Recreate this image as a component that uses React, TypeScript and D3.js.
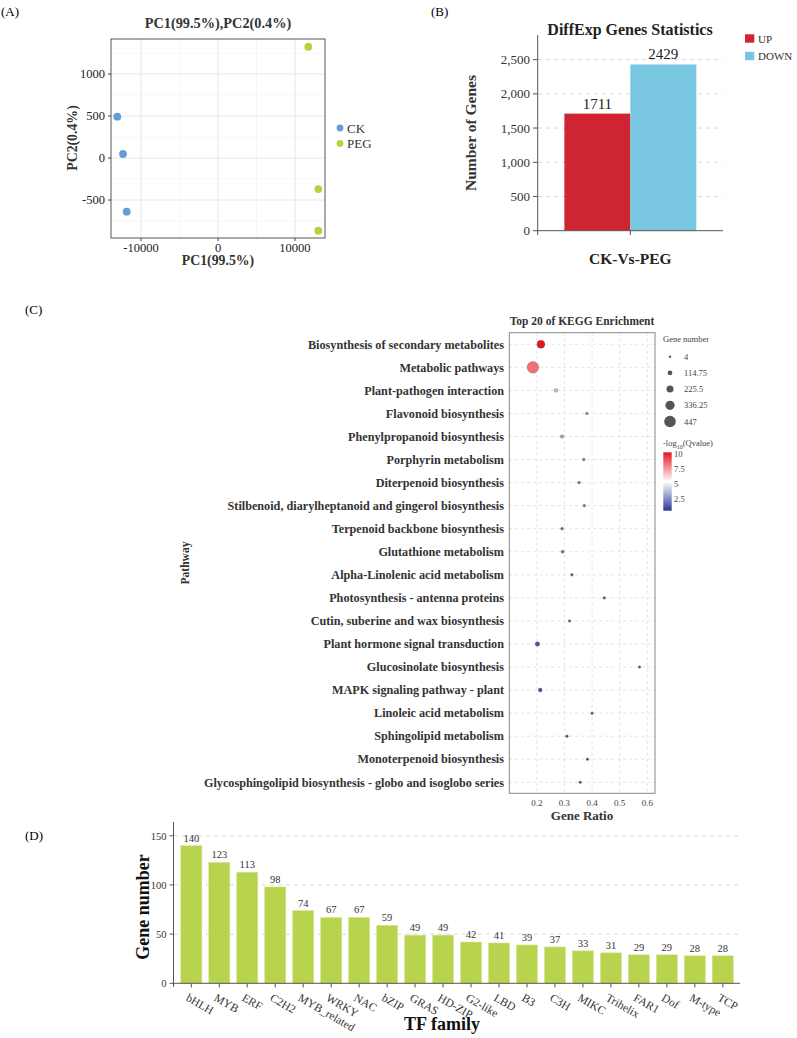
import React from "react";
import * as d3 from "d3";

// ---------- Panel A data (PCA) ----------
const pcaGroups = ["CK", "PEG"];
const pcaCK_x = [-13080, -12340, -11860];
const pcaCK_y = [492, 48, -639];
const pcaPEG_x = [11730, 13030, 13030];
const pcaPEG_y = [1325, -369, -865];
const pcaXTicks = [-10000, 0, 10000];
const pcaYTicks = [-500, 0, 500, 1000];

// ---------- Panel B data ----------
const degGroups = ["CK-Vs-PEG"];
const degCats = ["UP", "DOWN"];
const degValues = [1711, 2429];
const degYTicks = [0, 500, 1000, 1500, 2000, 2500];

// ---------- Panel C data (KEGG) ----------
const keggPathways = [
  "Biosynthesis of secondary metabolites",
  "Metabolic pathways",
  "Plant-pathogen interaction",
  "Flavonoid biosynthesis",
  "Phenylpropanoid biosynthesis",
  "Porphyrin metabolism",
  "Diterpenoid biosynthesis",
  "Stilbenoid, diarylheptanoid and gingerol biosynthesis",
  "Terpenoid backbone biosynthesis",
  "Glutathione metabolism",
  "Alpha-Linolenic acid metabolism",
  "Photosynthesis - antenna proteins",
  "Cutin, suberine and wax biosynthesis",
  "Plant hormone signal transduction",
  "Glucosinolate biosynthesis",
  "MAPK signaling pathway - plant",
  "Linoleic acid metabolism",
  "Sphingolipid metabolism",
  "Monoterpenoid biosynthesis",
  "Glycosphingolipid biosynthesis - globo and isoglobo series",
];
const keggRatio = [0.2145, 0.1855, 0.269, 0.381, 0.291, 0.37, 0.353, 0.372, 0.291, 0.293, 0.327, 0.444, 0.318, 0.202, 0.572, 0.212, 0.4, 0.309, 0.383, 0.357];
const keggGenes = [270, 447, 62, 14, 58, 15, 12, 14, 20, 30, 18, 10, 12, 105, 6, 80, 10, 14, 8, 6];
const keggQ = [10.3, 8.4, 4.0, 2.4, 3.2, 2.0, 1.8, 2.0, 1.7, 1.6, 1.5, 1.4, 1.4, 1.3, 1.2, 1.2, 1.1, 1.0, 1.0, 0.9];
const keggXTicks = [0.2, 0.3, 0.4, 0.5, 0.6];
const sizeLegend = [4, 114.75, 225.5, 336.25, 447];
const colorLegend = [10, 7.5, 5, 2.5];

// ---------- Panel D data (TF families) ----------
const tfFamilies = ["bHLH", "MYB", "ERF", "C2H2", "MYB_related", "WRKY", "NAC", "bZIP", "GRAS", "HD-ZIP", "G2-like", "LBD", "B3", "C3H", "MIKC", "Trihelix", "FAR1", "Dof", "M-type", "TCP"];
const tfCounts = [140, 123, 113, 98, 74, 67, 67, 59, 49, 49, 42, 41, 39, 37, 33, 31, 29, 29, 28, 28];
const tfYTicks = [0, 50, 100, 150];

const FONT = "'Liberation Serif', 'DejaVu Serif', serif";

function PanelA() {
  const x = d3.scaleLinear().domain([-13900, 13900]).range([111, 325]);
  const y = d3.scaleLinear().domain([-952, 1417]).range([238, 39]);
  const xMinor = [-5000, 5000];
  const yMinor = [-750, -250, 250, 750, 1250];
  const colors: Record<string, string> = { CK: "#6a9bd8", PEG: "#b6d23f" };
  const pts = [
    ...pcaCK_x.map((v, i) => ({ g: "CK", x: v, y: pcaCK_y[i] })),
    ...pcaPEG_x.map((v, i) => ({ g: "PEG", x: v, y: pcaPEG_y[i] })),
  ];
  return (
    <g>
      <text x={1} y={16} fontSize={13}>(A)</text>
      <text x={218} y={28} fontSize={14.3} fontWeight="bold" textAnchor="middle" fill="#333">PC1(99.5%),PC2(0.4%)</text>
      {xMinor.map((t) => (
        <line key={"xm" + t} x1={x(t)} x2={x(t)} y1={39} y2={238} stroke="#f0f0f0" strokeWidth={0.6} />
      ))}
      {yMinor.map((t) => (
        <line key={"ym" + t} x1={111} x2={325} y1={y(t)} y2={y(t)} stroke="#f0f0f0" strokeWidth={0.6} />
      ))}
      {pcaXTicks.map((t) => (
        <line key={"xg" + t} x1={x(t)} x2={x(t)} y1={39} y2={238} stroke="#e6e6e6" strokeWidth={1} />
      ))}
      {pcaYTicks.map((t) => (
        <line key={"yg" + t} x1={111} x2={325} y1={y(t)} y2={y(t)} stroke="#e6e6e6" strokeWidth={1} />
      ))}
      <rect x={111} y={39} width={214} height={199} fill="none" stroke="#444" strokeWidth={0.9} />
      {pcaXTicks.map((t) => (
        <g key={"xt" + t}>
          <line x1={x(t)} x2={x(t)} y1={238} y2={241} stroke="#444" />
          <text x={x(t)} y={252} fontSize={12.5} textAnchor="middle" fill="#222">{t}</text>
        </g>
      ))}
      {pcaYTicks.map((t) => (
        <g key={"yt" + t}>
          <line x1={108} x2={111} y1={y(t)} y2={y(t)} stroke="#444" />
          <text x={105} y={y(t) + 4.3} fontSize={12.5} textAnchor="end" fill="#222">{t}</text>
        </g>
      ))}
      {pts.map((p, i) => (
        <circle key={i} cx={x(p.x)} cy={y(p.y)} r={3.9} fill={colors[p.g]} />
      ))}
      <text x={218} y={265} fontSize={13.8} fontWeight="bold" textAnchor="middle" fill="#333">PC1(99.5%)</text>
      <text transform="translate(77,138) rotate(-90)" fontSize={13.8} fontWeight="bold" textAnchor="middle" fill="#333">PC2(0.4%)</text>
      {pcaGroups.map((g, i) => (
        <g key={g}>
          <circle cx={340} cy={128 + i * 15.5} r={3.4} fill={colors[g]} />
          <text x={347} y={132.5 + i * 15.5} fontSize={13} fill="#333">{g}</text>
        </g>
      ))}
    </g>
  );
}

function PanelB() {
  const y = d3.scaleLinear().domain([0, 2860]).range([230.7, 35]);
  const x0 = d3.scaleBand().domain(degGroups).range([537.7, 723]).paddingOuter(0.202).paddingInner(0);
  const x1 = d3.scaleBand().domain(degCats).range([0, x0.bandwidth()]);
  const colors: Record<string, string> = { UP: "#cf2533", DOWN: "#79c6e1" };
  const fmt = d3.format(",");
  return (
    <g>
      <text x={431} y={16} fontSize={13}>(B)</text>
      <text x={630} y={35} fontSize={16} fontWeight="bold" textAnchor="middle" fill="#222">DiffExp Genes Statistics</text>
      {degYTicks.filter((t) => t > 0).map((t) => (
        <line key={"g" + t} x1={538} x2={723} y1={y(t)} y2={y(t)} stroke="#d9d9d9" strokeDasharray="4,4" />
      ))}
      {degGroups.map((g) => (
        <g key={g}>
          {degCats.map((c, i) => (
            <g key={c}>
              <rect x={(x0(g) as number) + (x1(c) as number)} y={y(degValues[i])} width={x1.bandwidth()} height={y(0) - y(degValues[i])} fill={colors[c]} />
              <text x={(x0(g) as number) + (x1(c) as number) + x1.bandwidth() / 2} y={y(degValues[i]) - 5} fontSize={15} textAnchor="middle" fill="#222">{degValues[i]}</text>
            </g>
          ))}
          <line x1={(x0(g) as number) + x0.bandwidth() / 2} x2={(x0(g) as number) + x0.bandwidth() / 2} y1={230.7} y2={235} stroke="#555" />
          <text x={(x0(g) as number) + x0.bandwidth() / 2} y={264} fontSize={15.5} fontWeight="bold" textAnchor="middle" fill="#222">{g}</text>
        </g>
      ))}
      <line x1={537.7} x2={537.7} y1={35} y2={235} stroke="#555" />
      <line x1={537.7} x2={723} y1={230.7} y2={230.7} stroke="#555" />
      {degYTicks.map((t) => (
        <g key={t}>
          <line x1={533} x2={537.7} y1={y(t)} y2={y(t)} stroke="#555" />
          <text x={530} y={y(t) + 4.5} fontSize={13} textAnchor="end" fill="#333">{fmt(t)}</text>
        </g>
      ))}
      <text transform="translate(476,133) rotate(-90)" fontSize={15.5} fontWeight="bold" textAnchor="middle" fill="#333">Number of Genes</text>
      {degCats.map((c, i) => (
        <g key={c}>
          <rect x={745} y={34.3 + i * 17.5} width={9.3} height={8.4} fill={colors[c]} />
          <text x={758} y={42.5 + i * 17.5} fontSize={11} fill="#333">{c}</text>
        </g>
      ))}
    </g>
  );
}

function PanelC() {
  const left = 509.3, right = 655, top = 332.7, bottom = 793.3;
  const x = d3.scaleLinear().domain([0.1, 0.628]).range([left, right]);
  const y = d3.scalePoint().domain(keggPathways).range([344.3, 782.3]);
  const r = d3.scaleLinear().domain([4, 447]).range([1.2, 5.8]);
  const color = d3.scaleLinear<string>().domain([0.6, 5.45, 10.3]).range(["#2b3a94", "#ffffff", "#e8141c"]);
  const cb = d3.scaleLinear().domain([0.6, 10.3]).range([510.7, 452.3]);
  const stops = d3.range(0, 1.0001, 0.1).map((t) => ({ off: t, c: color(0.6 + (1 - t) * 9.7) }));
  return (
    <g>
      <defs>
        <linearGradient id="cbgrad" x1="0" y1="0" x2="0" y2="1">
          {stops.map((s, i) => (
            <stop key={i} offset={s.off} stopColor={s.c} />
          ))}
        </linearGradient>
      </defs>
      <text x={25} y={314} fontSize={13}>(C)</text>
      <text x={582} y={325} fontSize={11.5} fontWeight="bold" textAnchor="middle" fill="#333">Top 20 of KEGG Enrichment</text>
      {keggXTicks.map((t) => (
        <line key={"vx" + t} x1={x(t)} x2={x(t)} y1={top} y2={bottom} stroke="#dcdcdc" strokeDasharray="3,3" strokeWidth={0.8} />
      ))}
      {keggPathways.map((p) => (
        <line key={"hy" + p} x1={left} x2={right} y1={y(p)} y2={y(p)} stroke="#dcdcdc" strokeDasharray="3,3" strokeWidth={0.8} />
      ))}
      <rect x={left} y={top} width={right - left} height={bottom - top} fill="none" stroke="#888" strokeWidth={1} />
      {keggPathways.map((p) => (
        <text key={"l" + p} x={504} y={(y(p) as number) + 4.2} fontSize={12.2} fontWeight="bold" textAnchor="end" fill="#333">{p}</text>
      ))}
      {keggPathways.map((p, i) => (
        <circle key={"c" + p} cx={x(keggRatio[i])} cy={y(p) as number} r={r(keggGenes[i])} fill={color(keggQ[i])} stroke="#666" strokeWidth={0.4} />
      ))}
      {keggXTicks.map((t) => (
        <text key={"xt" + t} x={x(t)} y={806} fontSize={9} textAnchor="middle" fill="#444">{t}</text>
      ))}
      <text x={582} y={820} fontSize={13} fontWeight="bold" textAnchor="middle" fill="#333">Gene Ratio</text>
      <text transform="translate(189,563) rotate(-90)" fontSize={11.5} fontWeight="bold" textAnchor="middle" fill="#333">Pathway</text>
      <text x={663} y={342} fontSize={8.5} fill="#444">Gene number</text>
      {sizeLegend.map((s, i) => (
        <g key={"sl" + s}>
          <circle cx={670} cy={356.7 + i * 16.2} r={r(s)} fill="#555" />
          <text x={684} y={359.7 + i * 16.2} fontSize={8.5} fill="#444">{s}</text>
        </g>
      ))}
      <text x={663} y={446} fontSize={8.5} fill="#444">-log<tspan fontSize={6} dy={2.5}>10</tspan><tspan dy={-2.5}>(Qvalue)</tspan></text>
      <rect x={663.3} y={452.3} width={8.4} height={58.4} fill="url(#cbgrad)" />
      {colorLegend.map((v) => (
        <text key={"cl" + v} x={674} y={cb(v) + 3} fontSize={8.5} fill="#444">{v}</text>
      ))}
    </g>
  );
}

function PanelD() {
  const y = d3.scaleLinear().domain([0, 164]).range([983.3, 822]);
  const x = d3.scaleBand().domain(tfFamilies).range([177.3, 736.8]).paddingInner(0.24).paddingOuter(0.12);
  return (
    <g>
      <text x={25} y={840} fontSize={13}>(D)</text>
      {tfYTicks.filter((t) => t > 0).map((t) => (
        <line key={"g" + t} x1={174} x2={740} y1={y(t)} y2={y(t)} stroke="#d9d9d9" strokeDasharray="4,4" />
      ))}
      {tfFamilies.map((f, i) => (
        <g key={f}>
          <rect x={x(f) as number} y={y(tfCounts[i])} width={x.bandwidth()} height={y(0) - y(tfCounts[i])} fill="#b8d44f" stroke="#dbe9a6" strokeWidth={0.5} />
          <text x={(x(f) as number) + x.bandwidth() / 2} y={y(tfCounts[i]) - 4} fontSize={10.5} textAnchor="middle" fill="#333">{tfCounts[i]}</text>
          <line x1={(x(f) as number) + x.bandwidth() / 2} x2={(x(f) as number) + x.bandwidth() / 2} y1={983.3} y2={987.5} stroke="#555" />
          <text transform={`translate(${(x(f) as number) + x.bandwidth() / 2 - 2},${993}) rotate(30)`} fontSize={11.5} fill="#333" dy="0.7em">{f}</text>
        </g>
      ))}
      <line x1={173.5} x2={173.5} y1={822} y2={987} stroke="#555" />
      <line x1={173.5} x2={740} y1={983.3} y2={983.3} stroke="#555" />
      {tfYTicks.map((t) => (
        <g key={t}>
          <line x1={169.5} x2={173.5} y1={y(t)} y2={y(t)} stroke="#555" />
          <text x={166.5} y={y(t) + 3.8} fontSize={10.5} textAnchor="end" fill="#333">{t}</text>
        </g>
      ))}
      <text transform="translate(149,907) rotate(-90)" fontSize={18} fontWeight="bold" textAnchor="middle" fill="#111">Gene number</text>
      <text x={442} y={1030} fontSize={18} fontWeight="bold" textAnchor="middle" fill="#111">TF family</text>
    </g>
  );
}

export default function App() {
  return (
    <div style={{ position: "absolute", left: 0, top: 0 }}>
      <svg width={797} height={1038} viewBox="0 0 797 1038" style={{ display: "block", background: "#fff", fontFamily: FONT }}>
        <rect x={0} y={0} width={797} height={1038} fill="#fff" />
        <PanelA />
        <PanelB />
        <PanelC />
        <PanelD />
      </svg>
    </div>
  );
}
